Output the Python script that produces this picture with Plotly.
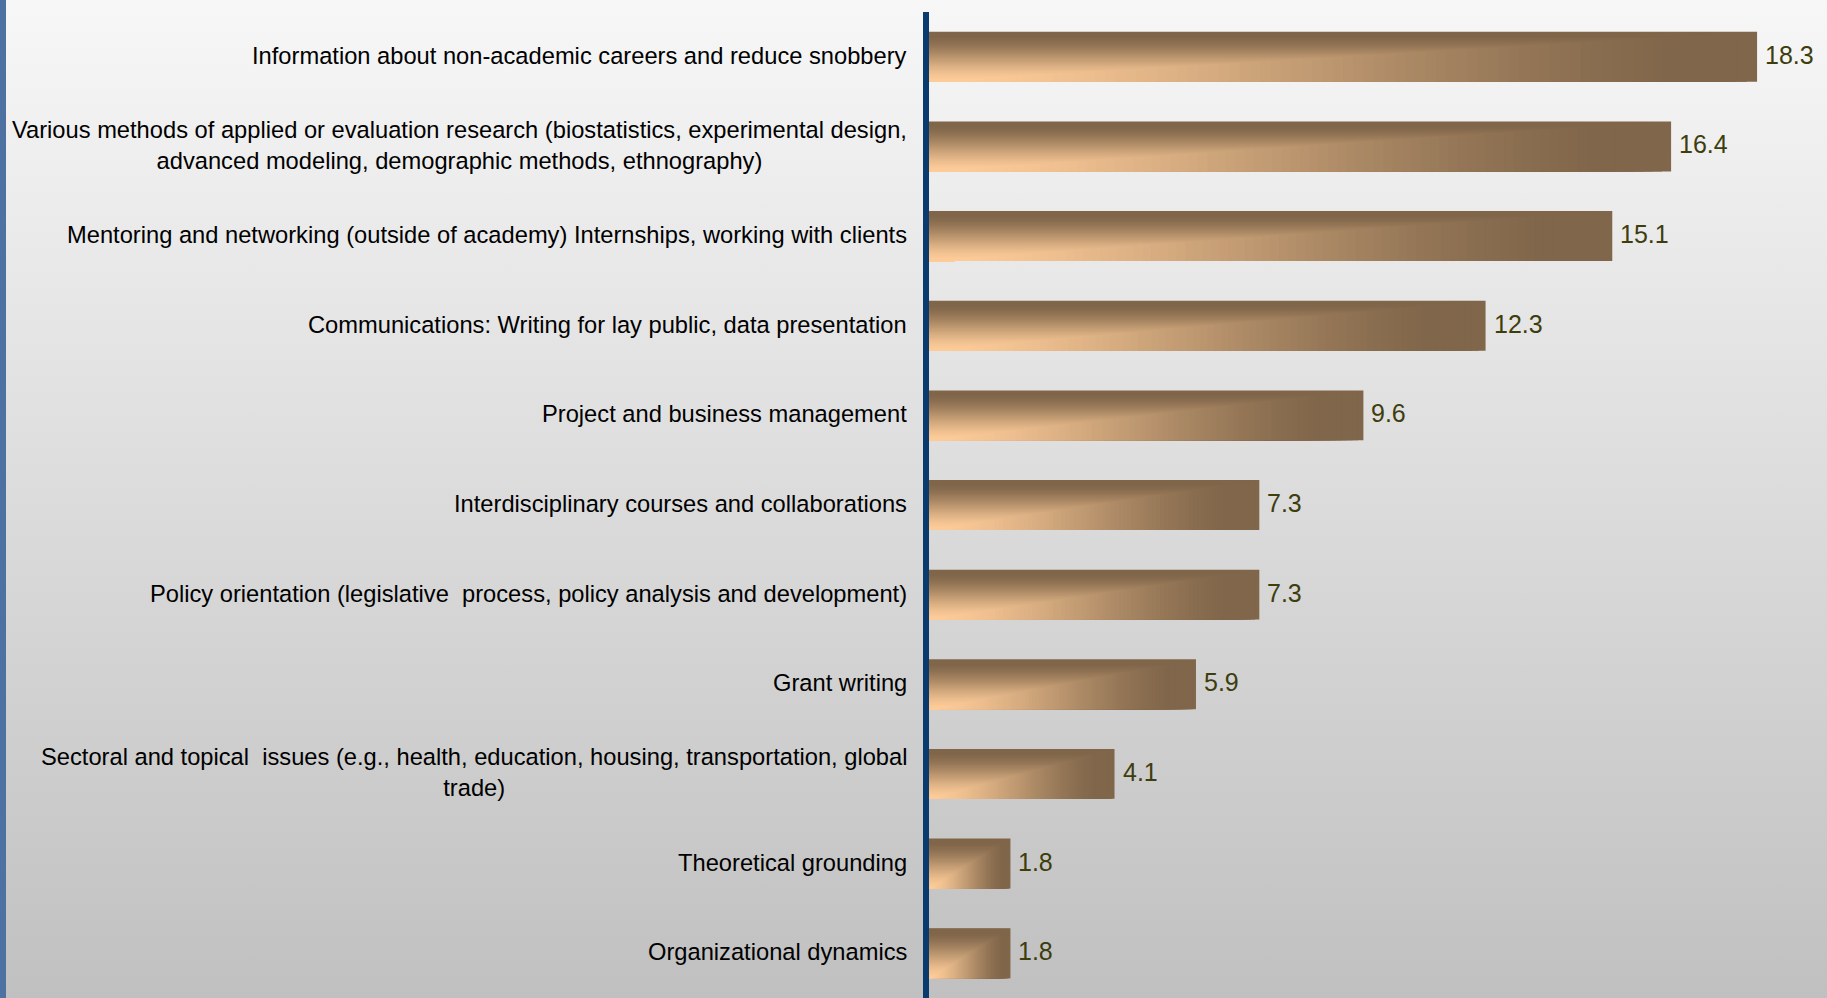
import base64
import plotly.graph_objects as go

# Survey responses: share (%) naming each training need, listed top to bottom
labels = [
    "Information about non-academic careers and reduce snobbery",
    "Various methods of applied or evaluation research (biostatistics, experimental design,<br>advanced modeling, demographic methods, ethnography)",
    "Mentoring and networking (outside of academy) Internships, working with clients",
    "Communications: Writing for lay public, data presentation",
    "Project and business management",
    "Interdisciplinary courses and collaborations",
    "Policy orientation (legislative  process, policy analysis and development)",
    "Grant writing",
    "Sectoral and topical  issues (e.g., health, education, housing, transportation, global<br>trade)",
    "Theoretical grounding",
    "Organizational dynamics",
]
values = [18.3, 16.4, 15.1, 12.3, 9.6, 7.3, 7.3, 5.9, 4.1, 1.8, 1.8]

W, H = 1827, 998
n = len(labels)
# numeric category positions, top row highest
pos = [n - 1 - i for i in range(n)]

BAR_W = 0.557
LIGHT = (253, 203, 152)
DARK = (128, 102, 74)


def ramp(t):
    lin = min(1.0, max(0.0, (t - 0.04) / 0.86))
    sm = lin * lin * (3 - 2 * lin)
    return 0.5 * lin + 0.5 * sm


def shade(t):
    k = ramp(t)
    r, g, b = (round(LIGHT[i] + (DARK[i] - LIGHT[i]) * k) for i in range(3))
    return f"rgb({r},{g},{b})"


fig = go.Figure()

# "from corner" gradient: nested rectangles anchored at each bar's lower-left corner
STEPS = 80
for k in range(STEPS, 0, -1):
    t = k / STEPS
    fig.add_trace(go.Bar(
        x=[v * t for v in values],
        y=pos,
        orientation="h",
        width=BAR_W * t,
        offset=-BAR_W / 2,
        marker=dict(color=shade(t - 0.5 / STEPS), line=dict(width=0)),
        hoverinfo="skip",
        showlegend=False,
    ))

# value labels just past each bar end
for v, p in zip(values, pos):
    fig.add_annotation(
        x=v, y=p, xref="x", yref="y", xanchor="left", yanchor="middle",
        xshift=6, yshift=2, text=f"{v:.1f}", showarrow=False,
        font=dict(family="Liberation Sans, Arial, sans-serif", size=25, color="#3d3d0e"),
    )

# category labels, right-aligned block with centred lines
for lab, p in zip(labels, pos):
    fig.add_annotation(
        x=0, xref="x domain", xshift=-20, xanchor="right",
        y=p, yref="y", yanchor="middle", yshift=1,
        text=lab, showarrow=False, align="center",
        font=dict(family="Liberation Sans, Arial, sans-serif", size=23.7, color="#000000"),
    )

# page background: soft vertical grey gradient
bg_svg = (
    f'<svg xmlns="http://www.w3.org/2000/svg" width="{W}" height="{H}" preserveAspectRatio="none">'
    '<defs><linearGradient id="g" x1="0" y1="0" x2="0" y2="1">'
    '<stop offset="0" stop-color="#f7f7f7"/><stop offset="1" stop-color="#c0c0c0"/>'
    '</linearGradient></defs>'
    f'<rect width="{W}" height="{H}" fill="url(#g)"/></svg>'
)
fig.add_layout_image(dict(
    source="data:image/svg+xml;base64," + base64.b64encode(bg_svg.encode()).decode(),
    xref="paper", yref="paper", x=0, y=1, sizex=1, sizey=1,
    xanchor="left", yanchor="top", sizing="stretch", layer="below",
))

# blue stripe on the left edge
fig.add_shape(type="rect", xref="paper", yref="paper",
              x0=0, x1=6 / W, y0=0, y1=1,
              fillcolor="#4d71a1", line=dict(width=0), layer="below")

plot_left = 929 / W
fig.update_layout(
    width=W, height=H,
    margin=dict(l=0, r=0, t=0, b=0),
    paper_bgcolor="#e0e0e0",
    plot_bgcolor="rgba(0,0,0,0)",
    barmode="overlay",
    showlegend=False,
    xaxis=dict(domain=[plot_left, 1], range=[0, (W - 929) / 45.25],
               showgrid=False, zeroline=False, showticklabels=False, showline=False),
    yaxis=dict(domain=[0, 0.988], range=[-0.5, n - 0.5],
               showgrid=False, zeroline=False, showticklabels=False,
               showline=True, linecolor="#0b3a6e", linewidth=6),
)

fig.write_html("out.html")
